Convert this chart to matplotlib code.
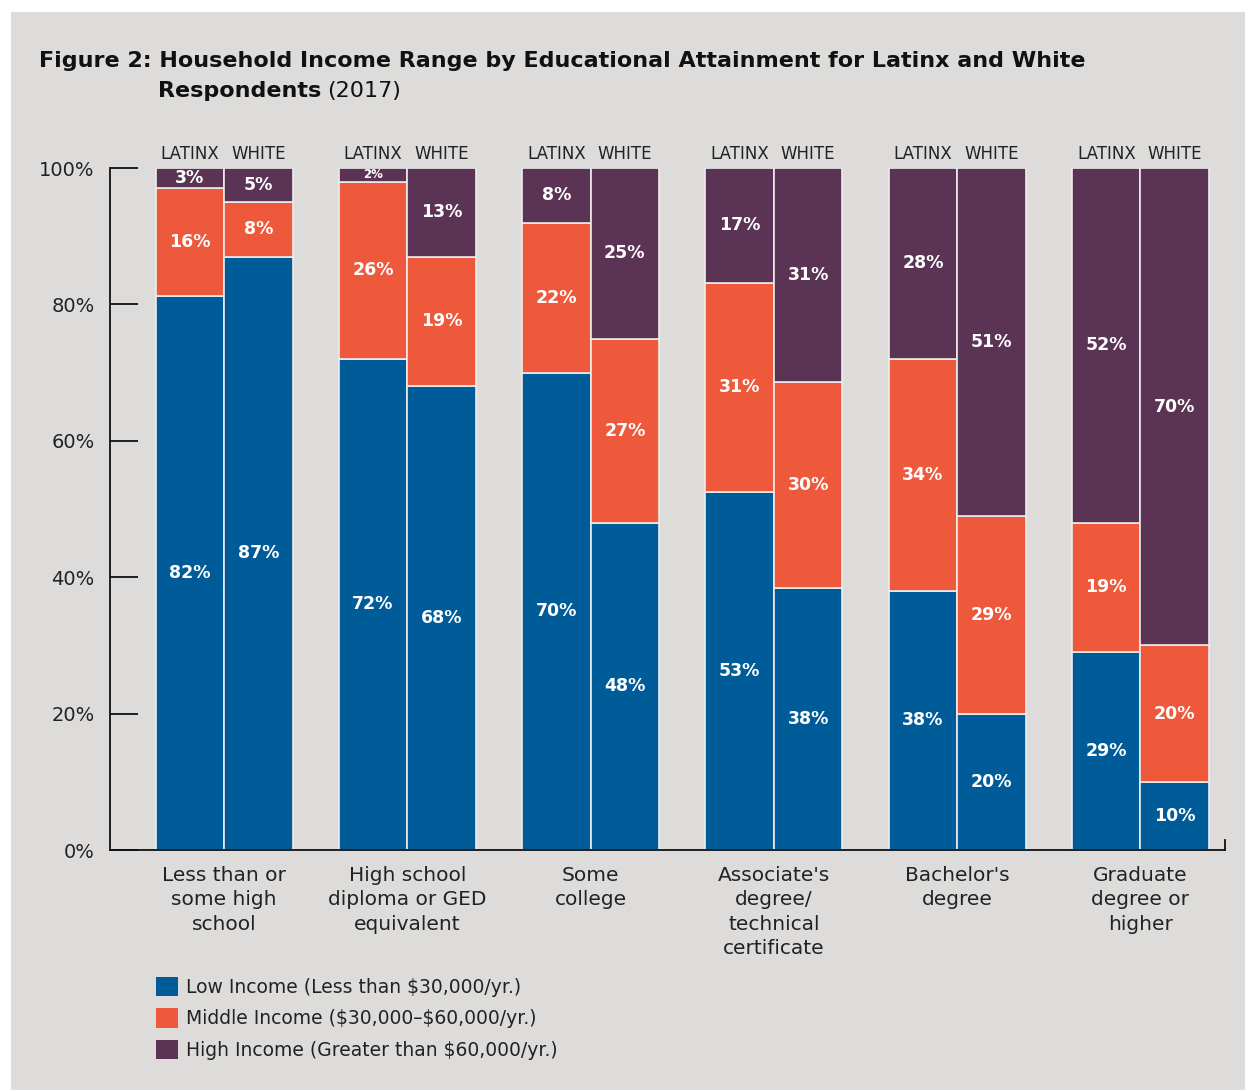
import numpy as np
import matplotlib
matplotlib.use('Agg')
import matplotlib.pyplot as plt
from matplotlib.patches import Rectangle, Patch

plt.rcParams['font.family'] = ['DejaVu Sans']

# data: percentages as printed on the chart (Latinx, White per category)
categories = ['Less than or\nsome high\nschool', 'High school\ndiploma or GED\nequivalent',
              'Some\ncollege', "Associate's\ndegree/\ntechnical\ncertificate",
              "Bachelor's\ndegree", 'Graduate\ndegree or\nhigher']
groups = ['LATINX', 'WHITE']

low_latinx = [82, 72, 70, 53, 38, 29]
mid_latinx = [16, 26, 22, 31, 34, 19]
high_latinx = [3, 2, 8, 17, 28, 52]

low_white = [87, 68, 48, 38, 20, 10]
mid_white = [8, 19, 27, 30, 29, 20]
high_white = [5, 13, 25, 31, 51, 70]

series_names = ['Low Income (Less than \\$30,000/yr.)',
                'Middle Income (\\$30,000\u2013\\$60,000/yr.)',
                'High Income (Greater than \\$60,000/yr.)']
colors = ['#005b99', '#ee583b', '#5b3455']
bg = '#dddcdb'

W, H = 1245, 1090
fig = plt.figure(figsize=(W / 100, H / 100), dpi=100, facecolor='white')
fig.patches.append(Rectangle((11 / W, 0), 1, 1 - 12 / H, transform=fig.transFigure,
                             facecolor=bg, edgecolor='none', zorder=-10))

ax = fig.add_axes([110 / W, 1 - 850 / H, (1225 - 110) / W, (850 - 168) / H])
ax.set_facecolor('none')

bw = 0.3737
x = np.arange(len(categories))

for j, (lo, mi, hi) in enumerate([(low_latinx, mid_latinx, high_latinx),
                                  (low_white, mid_white, high_white)]):
    lo = np.array(lo, float)
    mi = np.array(mi, float)
    hi = np.array(hi, float)
    tot = lo + mi + hi
    parts = [lo, mi, hi]
    xs = x + (j - 0.5) * bw
    bottom = np.zeros(len(x))
    for k, p in enumerate(parts):
        h = p / tot * 100
        ax.bar(xs, h, bw, bottom=bottom, color=colors[k], edgecolor='#ececec',
               linewidth=1.2, zorder=2)
        for xi, b, hh, v in zip(xs, bottom, h, p):
            fs = 8.5 if hh < 2.5 else 12.5
            ax.text(xi, b + hh / 2, f'{int(v)}%', ha='center', va='center',
                    color='white', fontsize=fs, fontweight='bold', zorder=3)
        bottom = bottom + h
    for xi in xs:
        ax.text(xi, 101.3, groups[j], ha='center', va='baseline', fontsize=12,
                color='#222222')

ax.set_xlim(-0.622, 5.461)
ax.set_ylim(0, 100)
ax.set_yticks([0, 20, 40, 60, 80, 100])
ax.set_yticklabels(['0%', '20%', '40%', '60%', '80%', '100%'], fontsize=14, color='#222222')
ax.tick_params(axis='y', direction='in', length=20, width=1.3, color='#111111', pad=11)
ax.set_xticks([])
ax.spines['top'].set_visible(False)
for s in ['left', 'bottom', 'right']:
    ax.spines[s].set_linewidth(1.3)
    ax.spines[s].set_color('#111111')
ax.spines['right'].set_bounds(0, 1.5)

for xi, c in zip(x, categories):
    ax.text(xi, -2.4, c, ha='center', va='top', fontsize=14.5, color='#222222',
            linespacing=1.34)

# title
t1 = fig.text(39 / W, 1 - 61 / H,
              'Figure 2: Household Income Range by Educational Attainment for Latinx and White',
              fontsize=16, fontweight='bold', va='center', ha='left', color='#111111')
t2 = fig.text(158 / W, 1 - 91 / H, 'Respondents', fontsize=16, fontweight='bold',
              va='center', ha='left', color='#111111')
ax.annotate('(2017)', xy=(1, 0), xycoords=t2, xytext=(4, 0), textcoords='offset points',
            va='bottom', ha='left', fontsize=16, color='#111111', annotation_clip=False)

handles = [Patch(facecolor=c, edgecolor='none') for c in colors]
fig.legend(handles, series_names, loc='upper left', bbox_to_anchor=(139 / W, 1 - 960 / H),
           frameon=False, fontsize=13.5, handlelength=1.2, handleheight=1.2,
           handletextpad=0.4, labelspacing=0.62, labelcolor='#222222')

fig.savefig('out.png', dpi=100, facecolor='white')
